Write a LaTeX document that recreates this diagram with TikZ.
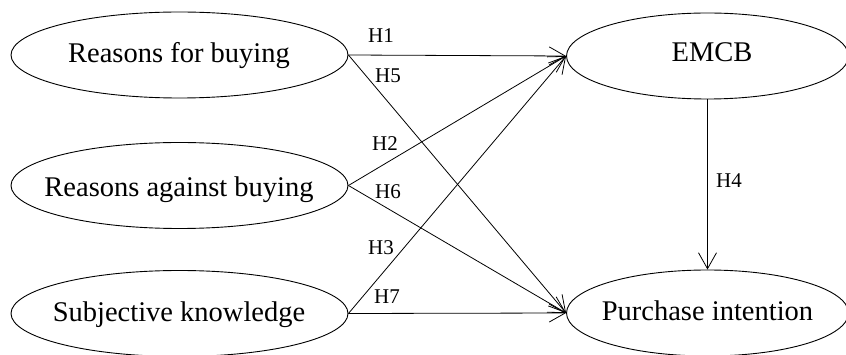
\documentclass[tikz,border=0pt]{standalone}
\usepackage{fontspec}
\setmainfont{Liberation Serif}
\usetikzlibrary{shapes.geometric,arrows.meta}
\begin{document}
\begin{tikzpicture}[x=1pt,y=-1pt,
  ell/.style={draw, ellipse, inner sep=0pt, line width=0.9pt, minimum height=86pt},
  lell/.style={ell, minimum width=337pt},
  rell/.style={ell, minimum width=282pt},
  lbl/.style={font=\fontsize{28.5}{30}\selectfont, inner sep=0pt, anchor=base},
  hyp/.style={font=\fontsize{21}{22}\selectfont, inner sep=0pt},
  link/.style={line width=0.8pt, -{Straight Barb[length=16pt,width=18pt]}}]
\useasboundingbox (0,0) rectangle (846,355);
% ellipses
\node[lell] (rfb) at (179.5,55) {};
\node[lell] (rab) at (179.5,185.5) {};
\node[lell] (sk)  at (179.5,313.5) {};
\node[rell] (emcb) at (707.5,56) {};
\node[rell] (pi)   at (707.5,313) {};
% texts
\node[lbl] (trfb) at (179,63) {Reasons for buying};
\node[lbl] (trab) at (179,197) {Reasons against buying};
\node[lbl] (tsk)  at (179,321) {Subjective knowledge};
\node[lbl] (temcb) at (712,62) {EMCB};
\node[lbl] (tpi)  at (707.5,320) {Purchase intention};
% connectors
\draw[link] (rfb.east) -- (emcb.west);
\draw[link] (rfb.east) -- (pi.west);
\draw[link] (rab.east) -- (emcb.west);
\draw[link] (rab.east) -- (pi.west);
\draw[link] (sk.east) -- (emcb.west);
\draw[link] (sk.east) -- (pi.west);
\draw[link] (emcb.south) -- (pi.north);
% hypothesis labels
\node[hyp] (h1) at (381,36) {H1};
\node[hyp] (h5) at (388,76) {H5};
\node[hyp] (h2) at (385,144) {H2};
\node[hyp] (h6) at (388,192) {H6};
\node[hyp] (h3) at (381,248) {H3};
\node[hyp] (h7) at (387,297) {H7};
\node[hyp] (h4) at (729,181) {H4};
\end{tikzpicture}
\end{document}
